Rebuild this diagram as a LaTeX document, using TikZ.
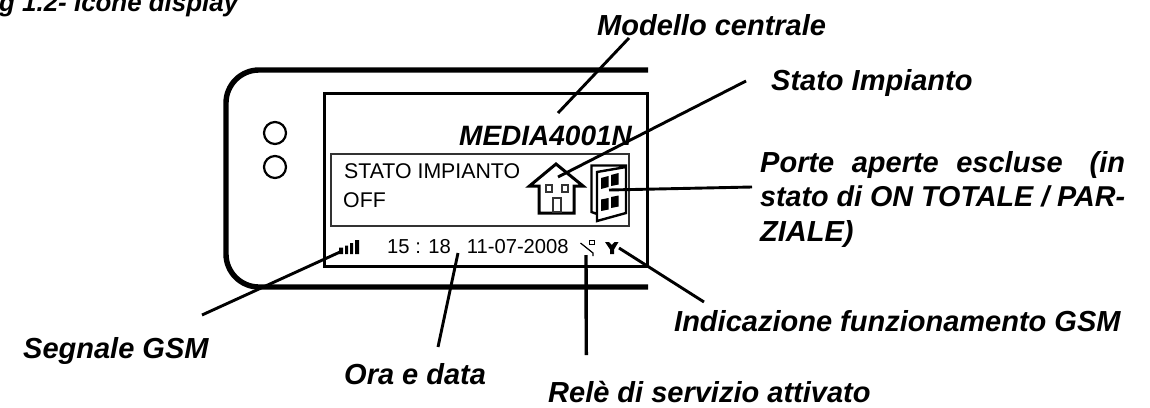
\documentclass[tikz,border=0pt]{standalone}
\usepackage{fontspec}
\setmainfont{Liberation Sans}
\tikzset{
  x=1pt,y=-1pt,
  lab/.style={font=\fontsize{29}{34}\selectfont\bfseries\itshape,anchor=base west,inner sep=0pt},
  disp/.style={font=\fontsize{21.3}{25}\selectfont,anchor=base west,inner sep=0pt},
  clock/.style={font=\fontsize{20.2}{25}\selectfont,anchor=base west,inner sep=0pt},
  leader/.style={line width=2.9pt,line cap=butt},
  pane/.style={fill=black,draw=none},
  led/.style={draw,circle,line width=2.2pt,minimum size=22pt,inner sep=0pt}
}
\begin{document}
\begin{tikzpicture}
\useasboundingbox (0,0) rectangle (1150,407);
% device
\draw[line width=5.4pt,rounded corners=33pt] (648,70) -- (226,70) -- (226,287) -- (648,287);
\node[led] (c1) at (275,133) {};
\node[led] (c2) at (275,167) {};
% screen
\draw[line width=3pt] (324,93) rectangle (647,266);
\draw[line width=1.6pt,black!80] (331,154) rectangle (629,226);
\node[lab,font=\fontsize{28}{32}\selectfont\bfseries\itshape] (model) at (459,145) {MEDIA4001N};
\node[disp] (stato) at (344,178) {STATO IMPIANTO};
\node[disp] (off) at (343,207) {OFF};
\node[clock] (ora) at (387,253) {15 : 18\hspace{16pt}11-07-2008};
% house
\coordinate (houseC) at (558,177);
\draw[line width=3pt,line join=miter] (529.5,186) -- (556,164) -- (583,186) -- (574,186) -- (574,213) -- (539,213) -- (539,186) -- cycle;
\draw[line width=1.1pt,black!80] (546,185) rectangle (552,192) (562,185) rectangle (568,192) (553,198) rectangle (561,212);
% door
\coordinate (doorC) at (609,190);
\draw[line width=2.4pt,line join=miter] (597,214) -- (591.5,212) -- (591.5,165.5) -- (626,165.5) -- (626,213) -- (597,221) -- (597,172) -- (626,167);
\fill[pane] (601,178) -- (608.5,176) -- (608.5,187) -- (601,189) -- cycle;
\fill[pane] (611,175) -- (618.5,173) -- (618.5,184.5) -- (611,186) -- cycle;
\fill[pane] (601,199.5) -- (608.5,198) -- (608.5,209.5) -- (601,211) -- cycle;
\fill[pane] (611,197) -- (618.5,195.5) -- (618.5,206.5) -- (611,208) -- cycle;
% signal bars
\coordinate (sigC) at (340,252);
\fill (339,247.5) rectangle (343,254) (345,245.5) rectangle (348,254) (350,243) rectangle (353,254) (355,240) rectangle (359,254);
% relay
\coordinate (relC) at (586,255);
\draw[line width=1.2pt] (580.5,243) -- (593,253) -- (593,256);
\draw[line width=0.9pt] (589.5,240) rectangle (594,244);
% antenna
\coordinate (antC) at (619,248);
\fill (605,242) -- (609,242) -- (611.8,245) -- (614.5,242) -- (618.5,242) -- (614,249.5) -- (614,254) -- (610,254) -- (610,249.5) -- cycle;
% leaders
\coordinate (m1) at (629,38); \coordinate (m2) at (558,113);
\coordinate (s1) at (746,81);
\coordinate (p1) at (752,187);
\coordinate (g1) at (704,302);
\coordinate (r1) at (586.3,355);
\coordinate (o1) at (438,347); \coordinate (o2) at (458,253);
\coordinate (l1) at (202,315);
\draw[leader] (m1) -- (m2);
\draw[leader] (s1) -- (houseC);
\draw[leader] (p1) -- (doorC);
\draw[leader] (g1) -- (antC);
\draw[leader,line width=3.4pt] (r1) -- (relC);
\draw[leader] (o1) -- (o2);
\draw[leader] (l1) -- (sigC);
% labels
\node[lab,font=\fontsize{25.9}{30}\selectfont\bfseries\itshape] (fig) at (-24,11) {Fig 1.2- Icone display};
\node[lab] (a) at (597,35) {Modello centrale};
\node[lab] (b) at (771,90) {Stato Impianto};
\node[lab] (d) at (760,172) {\hbox to 365pt{Porte\hfil\ aperte\hfil\ escluse\hfil\hfil\ (in}};
\node[lab,font=\fontsize{28.7}{34}\selectfont\bfseries\itshape] (e) at (760,206) {\hbox to 365pt{stato di ON TOTALE / PAR-}};
\node[lab] (f) at (760,241) {ZIALE)};
\node[lab] (g) at (674,331) {Indicazione funzionamento GSM};
\node[lab] (h) at (23,358) {Segnale GSM};
\node[lab] (i) at (344,384) {Ora e data};
\node[lab] (j) at (548,402) {Relè di servizio attivato};
\end{tikzpicture}
\end{document}
